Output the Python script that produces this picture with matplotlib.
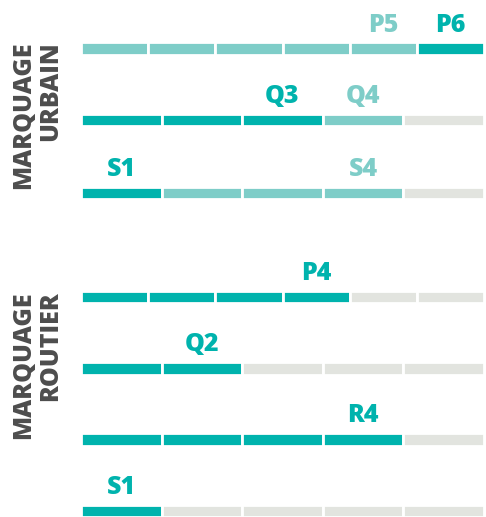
import matplotlib.pyplot as plt
from matplotlib.transforms import blended_transform_factory

DARK = "#00b3ad"
LIGHT = "#7ecdc8"
GREY = "#e2e4df"

# one entry per row: state of each segment (2 = dark, 1 = light, 0 = grey)
row_states = [
    [1, 1, 1, 1, 1, 2],
    [2, 2, 2, 1, 0],
    [2, 1, 1, 1, 0],
    [2, 2, 2, 2, 0, 0],
    [2, 2, 0, 0, 0],
    [2, 2, 2, 2, 0],
    [2, 0, 0, 0, 0],
]
# labels: (row, segment index, text)
row_labels = [
    (0, 4, "P5"), (0, 5, "P6"),
    (1, 2, "Q3"), (1, 3, "Q4"),
    (2, 0, "S1"), (2, 3, "S4"),
    (3, 3, "P4"),
    (4, 1, "Q2"),
    (5, 3, "R4"),
    (6, 0, "S1"),
]
groups = ["MARQUAGE\nURBAIN", "MARQUAGE\nROUTIER"]

row_y = [0, 1, 2.015, 3.466, 4.463, 5.453, 6.45]
group_y = [0.93, 4.42]
colors = {0: GREY, 1: LIGHT, 2: DARK}

plt.rcParams["font.family"] = ["Open Sans", "DejaVu Sans"]

fig = plt.figure(figsize=(4.86, 5.17), dpi=100)
ax = fig.add_axes([81 / 486, 0, 403 / 486, 1])
px = 71.7
ax.set_ylim((517 - 48.5) / px, -48.5 / px)
ax.set_xlim(0, 1)
ax.axis("off")

bar_h = 12.5 / px
for r, states in enumerate(row_states):
    n = len(states)
    w = 1 / n
    for i, s in enumerate(states):
        ax.barh(row_y[r], w, left=i * w, height=bar_h, color=colors[s],
                edgecolor="white", linewidth=2, align="center")

for r, i, txt in row_labels:
    n = len(row_states[r])
    s = row_states[r][i]
    ax.text((i + 0.5) / n, row_y[r] - 17 / px, txt, ha="center", va="baseline",
            fontsize=18, fontweight="extra bold", color=colors[s])

trans = blended_transform_factory(fig.transFigure, ax.transData)
for name, gy in zip(groups, group_y):
    fig.text(37 / 486, gy, name, transform=trans, rotation=90, ha="center",
             va="center", multialignment="right", fontsize=18,
             fontweight="extra bold", color="#4d4d4d", linespacing=1.1)

fig.savefig("out.png", dpi=100)
